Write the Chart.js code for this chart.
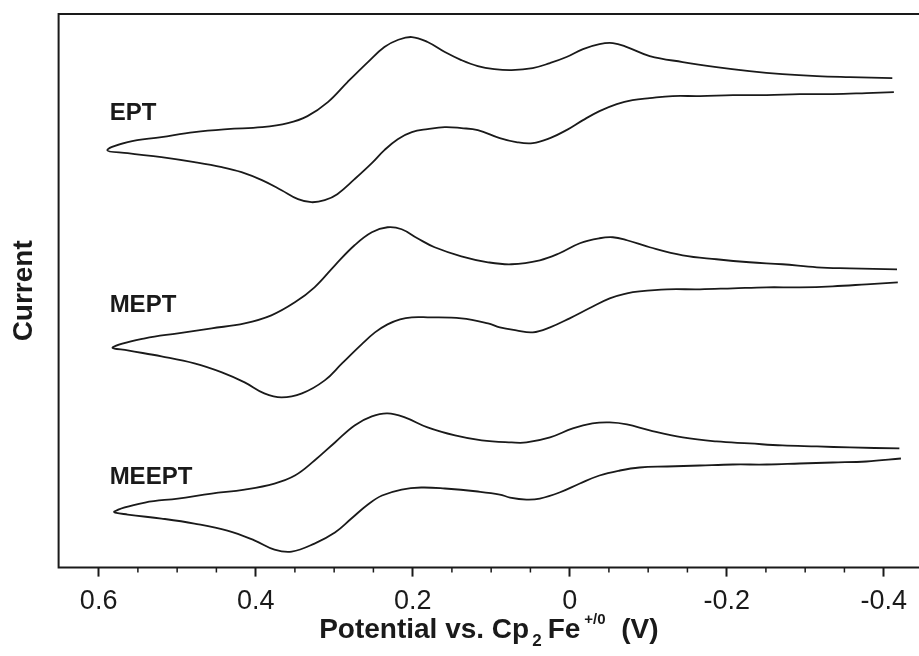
<!DOCTYPE html>
<html>
<head>
<meta charset="utf-8">
<script src="https://cdn.jsdelivr.net/npm/chart.js@4.4.0/dist/chart.umd.min.js"></script>
<style>
  html, body { margin: 0; padding: 0; background: #fff; }
  #wrap { width: 919px; height: 656px; }
</style>
</head>
<body>
<div id="wrap"><canvas id="cvChart" width="919" height="656"></canvas></div>
<script>
// Cyclic voltammograms, potential in V vs Cp2Fe+/0, current in arbitrary (offset) units.
// Each trace starts at the right end of the upper branch, runs to the left turning point
// and comes back along the lower branch (the loop stays open on the right).
const seriesNames = ['EPT', 'MEPT', 'MEEPT'];

const eptPotential = [-0.411, -0.357, -0.315, -0.271, -0.229, -0.187, -0.144, -0.102, -0.073, -0.055, -0.038, -0.017, 0.004, 0.025, 0.047, 0.074, 0.096, 0.117, 0.138, 0.159, 0.181, 0.201, 0.219, 0.236, 0.257, 0.283, 0.308, 0.334, 0.359, 0.392, 0.436, 0.478, 0.520, 0.563, 0.589,
  0.563, 0.520, 0.478, 0.443, 0.418, 0.392, 0.367, 0.346, 0.329, 0.312, 0.296, 0.274, 0.252, 0.236, 0.219, 0.201, 0.181, 0.159, 0.138, 0.117, 0.089, 0.068, 0.047, 0.025, 0.004, -0.017, -0.038, -0.060, -0.080, -0.102, -0.131, -0.166, -0.208, -0.251, -0.293, -0.335, -0.378, -0.413];
const eptCurrent = [48.9, 49.0, 49.1, 49.3, 49.6, 50.0, 50.5, 51.1, 52.0, 52.4, 52.3, 51.8, 51.0, 50.4, 49.9, 49.7, 49.8, 50.1, 50.7, 51.5, 52.5, 53.0, 52.7, 52.0, 50.5, 48.5, 46.5, 45.1, 44.4, 44.0, 43.8, 43.5, 43.0, 42.5, 41.7,
  41.4, 41.0, 40.5, 40.0, 39.5, 38.7, 37.7, 36.8, 36.5, 36.7, 37.3, 38.8, 40.4, 41.7, 42.8, 43.5, 43.8, 44.0, 43.9, 43.7, 42.9, 42.5, 42.4, 42.9, 43.7, 44.7, 45.6, 46.3, 46.7, 46.9, 47.1, 47.1, 47.2, 47.2, 47.3, 47.3, 47.4, 47.5];

const meptPotential = [-0.417, -0.357, -0.315, -0.271, -0.229, -0.187, -0.144, -0.102, -0.073, -0.055, -0.038, -0.013, 0.013, 0.038, 0.074, 0.104, 0.138, 0.172, 0.194, 0.214, 0.232, 0.252, 0.274, 0.299, 0.325, 0.350, 0.380, 0.414, 0.456, 0.499, 0.541, 0.582,
  0.563, 0.520, 0.478, 0.443, 0.414, 0.389, 0.367, 0.341, 0.312, 0.290, 0.265, 0.248, 0.232, 0.216, 0.201, 0.181, 0.138, 0.104, 0.089, 0.068, 0.047, 0.025, 0.000, -0.025, -0.051, -0.073, -0.089, -0.124, -0.166, -0.208, -0.251, -0.293, -0.335, -0.378, -0.418];
const meptCurrent = [29.8, 29.9, 30.0, 30.3, 30.5, 30.8, 31.2, 32.0, 32.7, 33.0, 32.9, 32.4, 31.4, 30.7, 30.3, 30.5, 31.1, 32.0, 32.9, 33.8, 34.0, 33.5, 32.2, 30.2, 28.0, 26.5, 25.2, 24.4, 23.9, 23.4, 22.9, 22.0,
  21.7, 21.1, 20.4, 19.5, 18.5, 17.4, 17.0, 17.4, 18.7, 20.4, 22.3, 23.5, 24.3, 24.8, 25.0, 25.0, 24.9, 24.4, 24.0, 23.7, 23.5, 24.0, 24.9, 25.9, 26.9, 27.4, 27.6, 27.8, 27.8, 27.9, 28.0, 28.0, 28.1, 28.3, 28.5];

const meeptPotential = [-0.420, -0.357, -0.315, -0.271, -0.229, -0.187, -0.144, -0.102, -0.073, -0.051, -0.029, -0.004, 0.025, 0.055, 0.074, 0.112, 0.146, 0.181, 0.210, 0.232, 0.252, 0.274, 0.299, 0.325, 0.350, 0.376, 0.414, 0.456, 0.499, 0.541, 0.580,
  0.563, 0.520, 0.478, 0.436, 0.401, 0.376, 0.354, 0.325, 0.299, 0.278, 0.257, 0.239, 0.214, 0.189, 0.159, 0.117, 0.089, 0.076, 0.055, 0.038, 0.013, -0.013, -0.038, -0.064, -0.089, -0.124, -0.166, -0.208, -0.251, -0.293, -0.335, -0.378, -0.422];
const meeptCurrent = [11.9, 12.0, 12.1, 12.2, 12.4, 12.6, 13.0, 13.7, 14.3, 14.5, 14.4, 13.9, 13.0, 12.5, 12.5, 12.7, 13.2, 14.0, 15.0, 15.4, 15.1, 14.2, 12.5, 10.7, 9.2, 8.4, 7.8, 7.4, 6.9, 6.5, 5.6,
  5.3, 4.9, 4.4, 3.7, 2.7, 1.8, 1.6, 2.4, 3.5, 4.9, 6.3, 7.2, 7.8, 8.0, 7.9, 7.6, 7.3, 7.0, 6.8, 6.9, 7.5, 8.4, 9.2, 9.7, 10.0, 10.1, 10.2, 10.3, 10.3, 10.4, 10.5, 10.6, 10.9];

const potentialTicks = [0.6, 0.4, 0.2, 0, -0.2, -0.4];
// where each compound name sits (potential, current) - left edge / baseline
const nameAnchors = [[0.586, 44.7], [0.586, 25.5], [0.586, 8.4]];

const INK = '#1a1a1a';
const FAMILY = '"Liberation Sans", Arial, Helvetica, sans-serif';

const toPoints = (xs, ys) => xs.map((x, i) => ({ x, y: ys[i] }));

const curves = [
  toPoints(eptPotential, eptCurrent),
  toPoints(meptPotential, meptCurrent),
  toPoints(meeptPotential, meeptCurrent)
];

// frame, minor ticks, compound names and the x title with sub/superscripts
const decorations = {
  id: 'decorations',
  afterDraw(chart) {
    const { ctx, chartArea: area, scales: { x, y } } = chart;
    ctx.save();
    ctx.strokeStyle = INK;
    ctx.lineWidth = 2;
    ctx.beginPath();
    ctx.moveTo(area.right + 2, area.top);
    ctx.lineTo(area.left, area.top);
    ctx.lineTo(area.left, area.bottom);
    ctx.lineTo(area.right + 2, area.bottom);
    ctx.stroke();

    ctx.lineWidth = 1.5;
    ctx.beginPath();
    for (let k = -8; k <= 12; k++) {
      if (k % 4 === 0) continue;
      const px = x.getPixelForValue(k * 0.05);
      if (px <= area.left || px >= area.right) continue;
      ctx.moveTo(px, area.bottom);
      ctx.lineTo(px, area.bottom + 5);
    }
    ctx.stroke();

    ctx.fillStyle = INK;
    ctx.font = 'bold 24px ' + FAMILY;
    ctx.textAlign = 'left';
    ctx.textBaseline = 'alphabetic';
    seriesNames.forEach((name, i) => {
      const [v, c] = nameAnchors[i];
      ctx.fillText(name, x.getPixelForValue(v), y.getPixelForValue(c));
    });

    const parts = [
      { text: 'Potential vs. Cp', size: 28, dy: 0, gap: 3 },
      { text: '2', size: 17, dy: 8, gap: 6 },
      { text: 'Fe', size: 28, dy: 0, gap: 4 },
      { text: '+/0', size: 15, dy: -14, gap: 0 },
      { text: '  (V)', size: 28, dy: 0, gap: 0 }
    ];
    let total = 0;
    parts.forEach(p => {
      ctx.font = 'bold ' + p.size + 'px ' + FAMILY;
      p.w = ctx.measureText(p.text).width;
      total += p.w + p.gap;
    });
    let cx = (area.left + area.right) / 2 - total / 2;
    const base = chart.height - 18;
    parts.forEach(p => {
      ctx.font = 'bold ' + p.size + 'px ' + FAMILY;
      ctx.fillText(p.text, cx, base + p.dy);
      cx += p.w + p.gap;
    });
    ctx.restore();
  }
};

new Chart(document.getElementById('cvChart'), {
  type: 'line',
  data: {
    datasets: curves.map((pts, i) => ({
      label: seriesNames[i],
      data: pts,
      borderColor: INK,
      borderWidth: 1.8,
      pointRadius: 0,
      tension: 0.4,
      fill: false
    }))
  },
  options: {
    responsive: false,
    animation: false,
    layout: { padding: { top: 14, right: 0, bottom: 29, left: 0 } },
    plugins: { legend: { display: false }, tooltip: { enabled: false } },
    scales: {
      x: {
        type: 'linear',
        reverse: true,
        min: -0.445,
        max: 0.651,
        afterBuildTicks: scale => { scale.ticks = potentialTicks.map(v => ({ value: v })); },
        ticks: {
          autoSkip: false,
          maxRotation: 0,
          padding: 9,
          color: INK,
          font: { family: FAMILY, size: 27 },
          callback: v => String(Math.round(v * 10) / 10)
        },
        grid: { display: true, drawOnChartArea: false, drawTicks: true, tickLength: 9, tickColor: INK, tickWidth: 2 },
        border: { display: false }
      },
      y: {
        min: 0,
        max: 55.3,
        ticks: { display: false },
        grid: { display: false, drawTicks: false },
        border: { display: false },
        title: {
          display: true,
          text: 'Current',
          color: INK,
          font: { family: FAMILY, size: 28, weight: 'bold' },
          padding: { top: 7, bottom: 18 }
        }
      }
    }
  },
  plugins: [decorations]
});
</script>
</body>
</html>
